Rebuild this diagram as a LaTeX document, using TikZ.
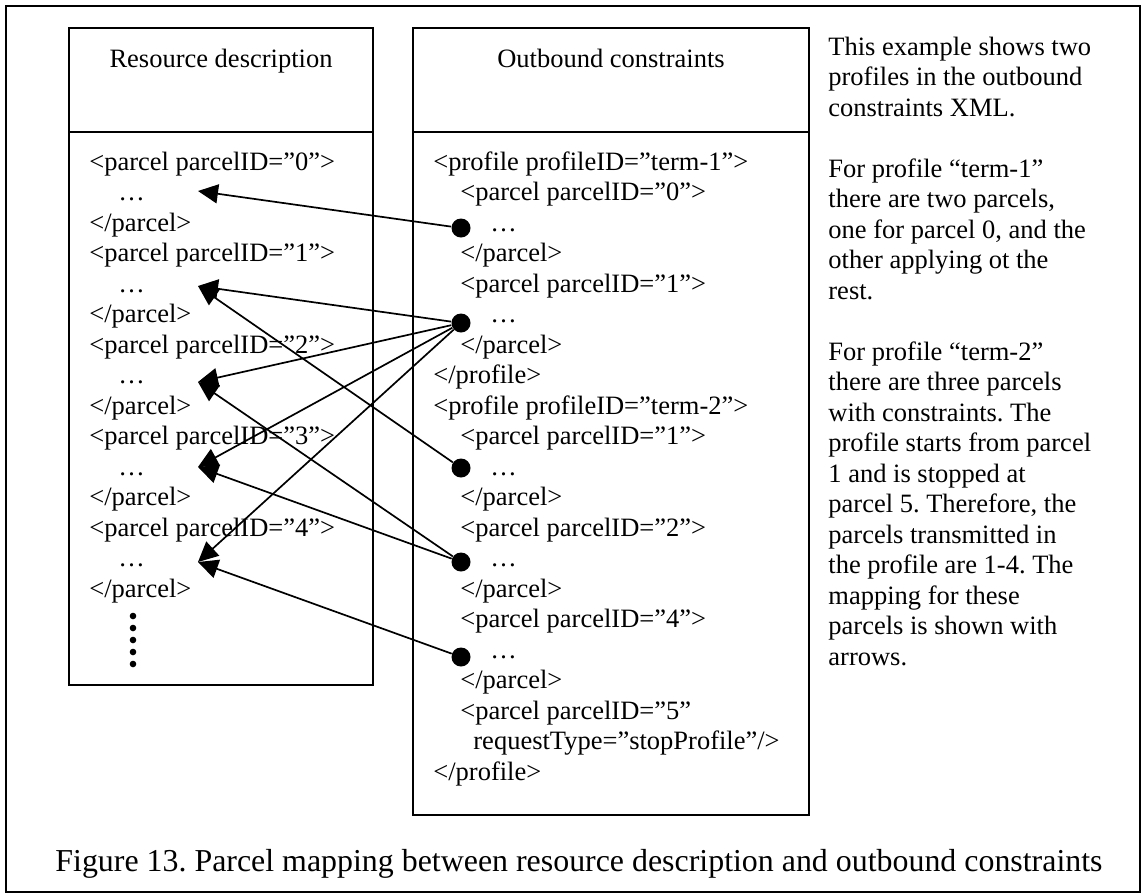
\documentclass[tikz,border=0pt]{standalone}
\usepackage{fontspec}
\setmainfont{Liberation Serif}
\usetikzlibrary{arrows.meta}
\frenchspacing

\begin{document}
\begin{tikzpicture}[x=0.5pt, y=-0.5pt,
        frame_style/.style={draw=black, line width=1.4pt},
        box_style/.style={draw=black, line width=1pt},
        head_style/.style={anchor=base, inner sep=0pt, font=\fontsize{13.25pt}{15.25pt}\selectfont},
        line_style/.style={anchor=base west, inner sep=0pt, font=\fontsize{13.25pt}{15.25pt}\selectfont},
        caption_style/.style={anchor=base west, inner sep=0pt, font=\fontsize{15.95pt}{19pt}\selectfont},
        dot_style/.style={circle, fill=black, inner sep=0pt, minimum size=9.5pt},
        small_dot_style/.style={circle, fill=black, inner sep=0pt, minimum size=3.3pt},
        edge_style/.style={draw=black, line width=0.85pt, -{Triangle[length=10pt, width=9.5pt]}}]

        \useasboundingbox (0,0) rectangle (1143,895);

        \draw [frame_style] (6,6) rectangle (1140,892);

        \draw [box_style] (69,28) rectangle (373,685);
        \draw [box_style] (69,132) -- (373,132);
        \draw [box_style] (413,28) rectangle (809,815);
        \draw [box_style] (413,132) -- (809,132);

        \node [head_style](h1) at (221,67) {Resource description};
        \node [head_style](h2) at (611,67) {Outbound constraints};

        % resource description
        \foreach \k in {0,...,4} {
            \node [line_style](r\k a) at (89,{170+91.5*\k}) {<parcel parcelID=”\k”>};
            \node [line_style](r\k b) at (118,{200.5+91.5*\k}) {…};
            \node [line_style](r\k c) at (89,{231+91.5*\k}) {</parcel>};
        }
        \foreach \k in {0,...,4}
            \node [small_dot_style](v\k) at (133,{616+12*\k}) {};

        % outbound constraints
        \foreach \ind/\txt [count=\i from 0] in {433/{<profile profileID=”term-1”>},
                460/{<parcel parcelID=”0”>}, 490/{…}, 460/{</parcel>},
                460/{<parcel parcelID=”1”>}, 490/{…}, 460/{</parcel>},
                433/{</profile>}, 433/{<profile profileID=”term-2”>},
                460/{<parcel parcelID=”1”>}, 490/{…}, 460/{</parcel>},
                460/{<parcel parcelID=”2”>}, 490/{…}, 460/{</parcel>},
                460/{<parcel parcelID=”4”>}, 490/{…}, 460/{</parcel>},
                460/{<parcel parcelID=”5”}, 473/{requestType=”stopProfile”/>},
                433/{</profile>}}
            \node [line_style](o\i) at (\ind,{170+30.5*\i}) {\txt};

        % note
        \foreach \n/\txt in {0/{This example shows two}, 1/{profiles in the outbound},
                2/{constraints XML.}, 4/{For profile “term-1”}, 5/{there are two parcels,},
                6/{one for parcel 0, and the}, 7/{other applying ot the}, 8/{rest.},
                10/{For profile “term-2”}, 11/{there are three parcels},
                12/{with constraints. The}, 13/{profile starts from parcel},
                14/{1 and is stopped at}, 15/{parcel 5. Therefore, the},
                16/{parcels transmitted in}, 17/{the profile are 1-4. The},
                18/{mapping for these}, 19/{parcels is shown with}, 20/{arrows.}}
            \node [line_style](t\n) at (828,{55+30.5*\n}) {\txt};

        \node [caption_style](cap) at (55,871) {Figure 13. Parcel mapping between resource description and outbound constraints};

        \node [dot_style](d0) at (461,228) {};
        \node [dot_style](d1) at (461,323) {};
        \node [dot_style](d2) at (461,468) {};
        \node [dot_style](d3) at (461,562) {};
        \node [dot_style](d4) at (461,657) {};
        \coordinate (a0) at (198,191);
        \coordinate (a1) at (198,286);
        \coordinate (a2) at (198,382);
        \coordinate (a3) at (198,467);
        \coordinate (a4) at (198,562);

        \draw [edge_style] (d0) -- (a0);
        \draw [edge_style] (d1) -- (a1);
        \draw [edge_style] (d1) -- (a2);
        \draw [edge_style] (d1) -- (a3);
        \draw [edge_style] (d1) -- (a4);
        \draw [edge_style] (d2) -- (a1);
        \draw [edge_style] (d3) -- (a2);
        \draw [edge_style] (d3) -- (a3);
        \draw [edge_style] (d4) -- (a4);
\end{tikzpicture}
\end{document}
